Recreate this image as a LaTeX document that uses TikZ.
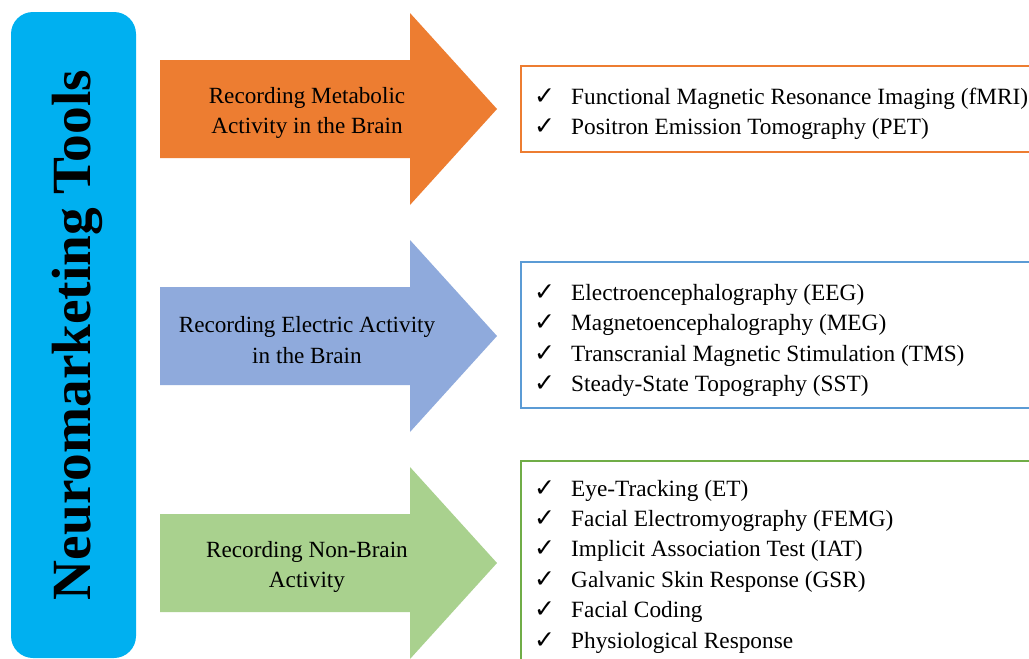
\documentclass[tikz,border=0pt]{standalone}
\usepackage{fontspec}
\setmainfont{Liberation Serif}
\newfontfamily\symf{DejaVu Sans}
\definecolor{barblue}{HTML}{00B0F0}
\definecolor{aorange}{HTML}{ED7D31}
\definecolor{ablue}{HTML}{8FAADC}
\definecolor{agreen}{HTML}{A9D18E}
\definecolor{bblue}{HTML}{5B9BD5}
\definecolor{bgreen}{HTML}{70AD47}
\tikzset{
  lbl/.style={font=\fontsize{23.2}{30.4}\selectfont, align=center, text=black},
  item/.style={font=\fontsize{23.3}{25}\selectfont, anchor=base west, inner sep=0pt, text=black},
  chk/.style={font=\symf\fontsize{25}{26}\selectfont, anchor=base west, inner sep=0pt, text=black},
  listbox/.style={draw=#1, line width=1.4pt, fill=white},
}
\newcommand\bigarrow[2]{%
  \fill[#1] (160,#2-49) -- (410,#2-49) -- (410,#2-96) -- (497,#2) -- (410,#2+96) -- (410,#2+49) -- (160,#2+49) -- cycle;}
\begin{document}
\begin{tikzpicture}[x=1pt,y=-1pt]
\useasboundingbox (0,0) rectangle (1029,659);
\clip (0,0) rectangle (1029,659);
\fill[white] (0,0) rectangle (1029,659);
% left bar
\fill[barblue, rounded corners=22pt] (11,12) rectangle (136,658);
\node[rotate=90, font=\fontsize{55.3}{60}\selectfont\bfseries, text=black] (title) at (77,335) {Neuromarketing Tools};
% arrows
\bigarrow{aorange}{109}
\bigarrow{ablue}{336}
\bigarrow{agreen}{563}
\node[lbl] (l1) at (307,113) {Recording Metabolic\\Activity in the Brain};
\node[lbl] (l2) at (307,340) {Recording Electric Activity\\in the Brain};
\node[lbl] (l3) at (307,567) {Recording Non-Brain\\Activity};
% boxes
\draw[listbox=aorange] (521,66) rectangle (1045,152);
\draw[listbox=bblue] (521,262) rectangle (1045,408);
\draw[listbox=bgreen] (521,461) rectangle (1045,680);
% items
\foreach \y/\t [count=\i] in {
  104/{Functional Magnetic Resonance Imaging (fMRI)},
  134/{Positron Emission Tomography (PET)},
  300/{Electroencephalography (EEG)},
  330/{Magnetoencephalography (MEG)},
  361/{Transcranial Magnetic Stimulation (TMS)},
  391/{Steady-State Topography (SST)},
  496/{Eye-Tracking (ET)},
  526/{Facial Electromyography (FEMG)},
  556/{Implicit Association Test (IAT)},
  587/{Galvanic Skin Response (GSR)},
  617/{Facial Coding},
  648/{Physiological Response}}{
  \node[chk] (c\i) at (534,\y) {✓};
  \node[item] (t\i) at (571,\y) {\t};
}
\end{tikzpicture}
\end{document}
